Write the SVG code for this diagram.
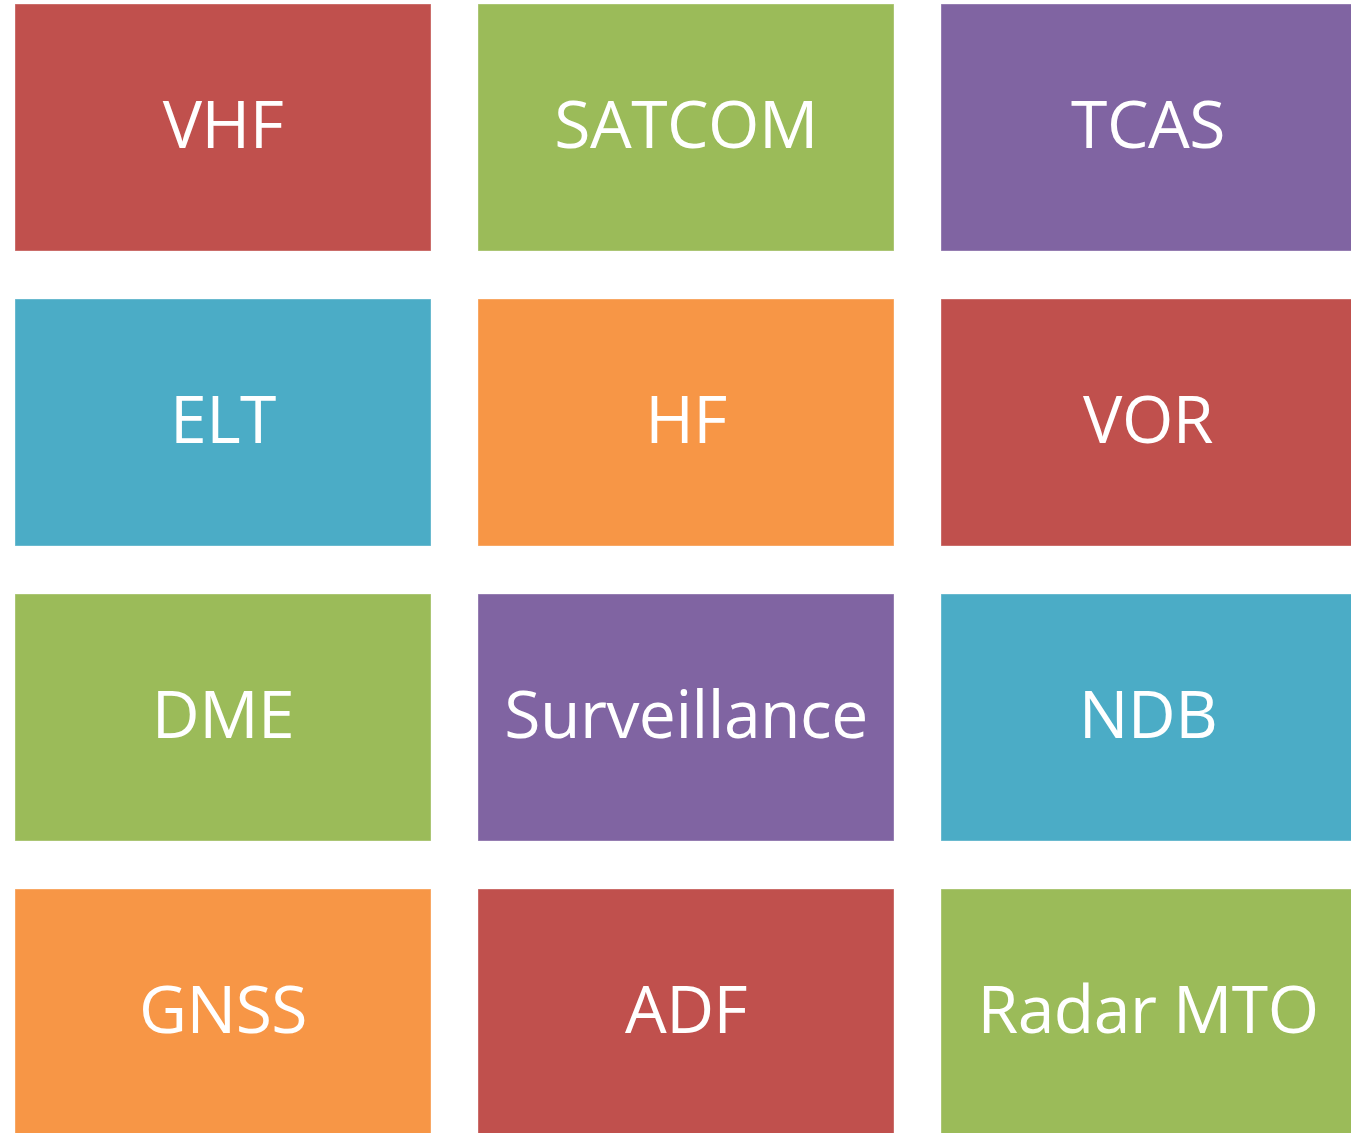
<svg xmlns="http://www.w3.org/2000/svg" width="1351" height="1133" viewBox="0 0 1351 1133">
  <style>
    .box { stroke: #ffffff; stroke-opacity: 0.35; stroke-width: 1; }
    .red { fill: #C0504D; }
    .green { fill: #9BBB59; }
    .purple { fill: #8064A2; }
    .blue { fill: #4BACC6; }
    .orange { fill: #F79646; }
    .label { fill: #ffffff; font-family: "Open Sans", "Noto Sans", sans-serif; font-size: 66px; letter-spacing: -0.5px; text-anchor: middle; }
  </style>
  <rect width="1351" height="1133" fill="#ffffff"/>

  <!-- row 1 -->
  <g id="vhf"><rect class="box red" x="15" y="4" width="416" height="247"/><text class="label" x="223" y="148">VHF</text></g>
  <g id="satcom"><rect class="box green" x="478" y="4" width="416" height="247"/><text class="label" x="686" y="148">SATCOM</text></g>
  <g id="tcas"><rect class="box purple" x="941" y="4" width="416" height="247"/><text class="label" x="1148" y="148">TCAS</text></g>

  <!-- row 2 -->
  <g id="elt"><rect class="box blue" x="15" y="299" width="416" height="247"/><text class="label" x="223" y="443">ELT</text></g>
  <g id="hf"><rect class="box orange" x="478" y="299" width="416" height="247"/><text class="label" x="686" y="443">HF</text></g>
  <g id="vor"><rect class="box red" x="941" y="299" width="416" height="247"/><text class="label" x="1148" y="443">VOR</text></g>

  <!-- row 3 -->
  <g id="dme"><rect class="box green" x="15" y="594" width="416" height="247"/><text class="label" x="223" y="738">DME</text></g>
  <g id="surveillance"><rect class="box purple" x="478" y="594" width="416" height="247"/><text class="label" x="686" y="738">Surveillance</text></g>
  <g id="ndb"><rect class="box blue" x="941" y="594" width="416" height="247"/><text class="label" x="1148" y="738">NDB</text></g>

  <!-- row 4 -->
  <g id="gnss"><rect class="box orange" x="15" y="889" width="416" height="247"/><text class="label" x="223" y="1033">GNSS</text></g>
  <g id="adf"><rect class="box red" x="478" y="889" width="416" height="247"/><text class="label" x="686" y="1033">ADF</text></g>
  <g id="radar-mto"><rect class="box green" x="941" y="889" width="416" height="247"/><text class="label" x="1148" y="1033">Radar MTO</text></g>
</svg>
